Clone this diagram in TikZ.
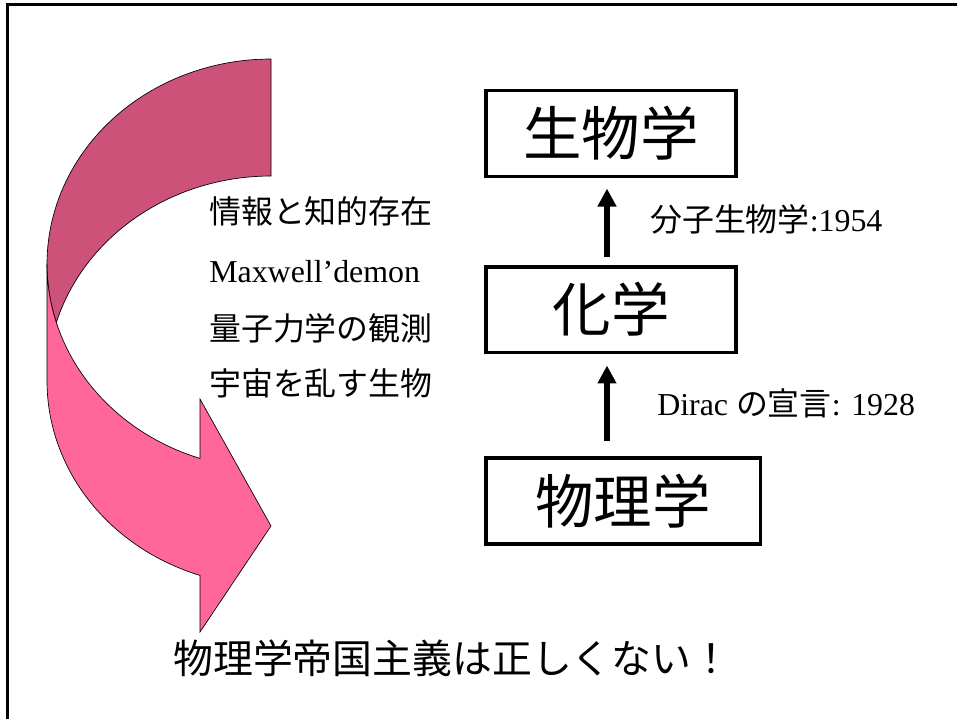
\documentclass[tikz,border=0pt]{standalone}
\usepackage{fontspec}
\setmainfont{Liberation Serif}
\newfontfamily\jp{Noto Sans CJK JP}
\usetikzlibrary{arrows.meta}
\definecolor{pinkL}{RGB}{255,102,153}
\definecolor{pinkD}{RGB}{204,82,122}
\begin{document}
\begin{tikzpicture}[x=0.7524pt,y=-0.7524pt,
  box/.style={draw, line width=2.3pt, inner sep=0pt, font=\jp\fontsize{44}{50}\selectfont},
  side/.style={anchor=base west, inner sep=0pt, font=\fontsize{24}{28}\selectfont},
  jpside/.style={side, font=\jp\fontsize{24}{28}\selectfont},
  bigarr/.style={line width=4.5pt, -{Triangle[width=13.5pt,length=13.5pt]}},
  band/.style={draw=black, line width=0.5pt}]
\useasboundingbox (0,0) rectangle (957,719);
\draw[line width=1.6pt] (7.5,719) -- (7.5,4.5) -- (957,4.5);

% curved arrow: dark (back) band
\draw[band, fill=pinkD] plot[domain=90:196.58, samples=80] ({271+224*cos(\x)},{264-205*sin(\x)})
  -- plot[domain=163.42:90, samples=80] ({271+224*cos(\x)},{381-205*sin(\x)}) -- cycle;
% curved arrow: light (front) band with head
\draw[band, fill=pinkL] plot[domain=180:251.52, samples=80] ({271+224*cos(\x)},{264-205*sin(\x)})
  -- (200,399) -- (271,526) -- (200,632)
  -- plot[domain=251.52:180, samples=80] ({271+224*cos(\x)},{381-205*sin(\x)}) -- cycle;

% boxes
\node[box, minimum width=188.1pt, minimum height=64pt] (bio) at (611,133.5) {生物学};
\node[box, minimum width=188.1pt, minimum height=64pt] (chem) at (611,309.5) {化学};
\node[box, minimum width=206.2pt, minimum height=64.7pt] (phys) at (623,501) {物理学};

% arrows
\coordinate (ax) at (607,0);
\draw[bigarr, shorten <=6pt, shorten >=8.3pt] (chem.north -| ax) -- (bio.south -| ax);
\draw[bigarr, shorten <=11.3pt, shorten >=9pt] (phys.north -| ax) -- (chem.south -| ax);

% arrow labels
\node[side] (lab1) at (650,231) {{\jp 分子生物学}:1954};
\node[side] (lab2) at (657,415) {Dirac {\jp の宣言}: 1928};

% side texts
\node[jpside] (s1) at (209,223) {情報と知的存在};
\node[side] (s2) at (209,282) {Maxwell’demon};
\node[jpside] (s3) at (209,340) {量子力学の観測};
\node[jpside] (s4) at (209,395) {宇宙を乱す生物};

% conclusion
\node[anchor=base west, inner sep=0pt, font=\jp\fontsize{30}{34}\selectfont] (concl) at (173,673) {物理学帝国主義は正しくない！};
\end{tikzpicture}
\end{document}
